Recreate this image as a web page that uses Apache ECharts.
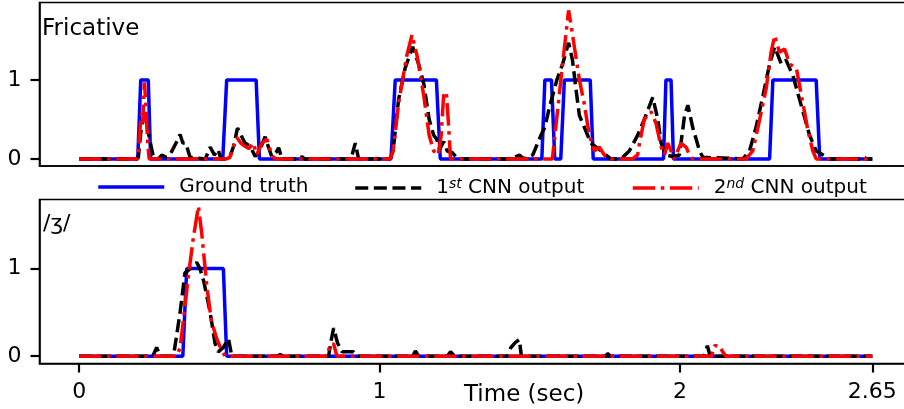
<!DOCTYPE html>
<html><head><meta charset="utf-8">
<script src="https://cdn.jsdelivr.net/npm/echarts@6/dist/echarts.min.js"></script>
<style>html,body{margin:0;padding:0;background:#fff}#c{width:904px;height:409px}</style>
</head><body><div id="c"></div>
<script>
// ---- data (time in seconds, value) ----
const xTickValues = [0, 1, 2, 2.64];
const xTickLabels = ['0', '1', '2', '2.65'];
const yTickValues = [0, 1];
const panelTitles = ['Fricative', '/ʒ/'];
const seriesNames = ['Ground truth', '1st CNN output', '2nd CNN output'];
const xAxisTitle = 'Time (sec)';

const gtFricative = [[0,0],[0.195,0],[0.205,1],[0.230,1],[0.238,0],[0.478,0],[0.491,1],[0.589,1],[0.600,0],[1.038,0],[1.052,1],[1.189,1],[1.202,0],[1.540,0],[1.550,1],[1.572,1],[1.583,0],[1.603,0],[1.615,1],[1.701,1],[1.711,0],[1.945,0],[1.953,1],[1.970,1],[1.978,0],[2.298,0],[2.309,1],[2.453,1],[2.465,0],[2.64,0]];
const cnn1Fricative = [[0,0],[0.19,0],[0.197,0.02],[0.205,0.33],[0.215,0.55],[0.222,0.5],[0.232,0.3],[0.247,0.02],[0.265,0],[0.275,0.05],[0.29,0.02],[0.302,0.05],[0.325,0.22],[0.336,0.31],[0.345,0.2],[0.355,0.2],[0.369,0.02],[0.42,0],[0.436,0.15],[0.45,0.05],[0.462,0.12],[0.472,0],[0.49,0],[0.502,0.03],[0.514,0.16],[0.527,0.39],[0.54,0.29],[0.552,0.2],[0.569,0.16],[0.586,0.03],[0.60,0.1],[0.619,0.28],[0.63,0.15],[0.641,0.03],[0.655,0.08],[0.664,0.14],[0.675,0],[0.735,0],[0.741,0.03],[0.75,0],[0.905,0],[0.919,0.2],[0.93,0],[1.035,0],[1.045,0.1],[1.063,0.75],[1.085,1.15],[1.11,1.42],[1.13,1.2],[1.147,0.95],[1.165,0.5],[1.18,0.3],[1.19,0.25],[1.2,0.12],[1.213,0.22],[1.225,0.1],[1.242,0.08],[1.26,0],[1.44,0],[1.465,0.05],[1.48,0],[1.51,0.05],[1.537,0.3],[1.55,0.4],[1.565,0.65],[1.59,1.0],[1.609,1.2],[1.629,1.47],[1.642,1.25],[1.653,0.9],[1.665,0.55],[1.687,0.35],[1.703,0.2],[1.731,0.12],[1.753,0.05],[1.77,0],[1.80,0],[1.809,0.02],[1.831,0.1],[1.859,0.3],[1.881,0.5],[1.909,0.78],[1.926,0.5],[1.937,0.2],[1.953,0.05],[1.976,0.03],[1.998,0.05],[2.015,0.55],[2.026,0.68],[2.042,0.4],[2.065,0.1],[2.076,0.02],[2.209,0],[2.231,0.1],[2.253,0.4],[2.276,0.8],[2.298,1.2],[2.315,1.42],[2.337,1.2],[2.353,1.25],[2.376,1.05],[2.409,0.6],[2.431,0.3],[2.453,0.1],[2.476,0.05],[2.498,0],[2.60,0],[2.609,0.03],[2.62,0],[2.64,0]];
const cnn2Fricative = [[0,0],[0.195,0],[0.203,0.4],[0.208,0.58],[0.212,0.45],[0.217,0.97],[0.222,0.7],[0.228,0.2],[0.233,0],[0.49,0],[0.502,0.02],[0.514,0.16],[0.525,0.27],[0.538,0.2],[0.552,0.16],[0.565,0.13],[0.58,0.2],[0.591,0.05],[0.608,0.2],[0.625,0.25],[0.641,0.05],[0.652,0],[1.035,0],[1.045,0.1],[1.063,0.7],[1.09,1.3],[1.108,1.57],[1.125,1.3],[1.147,0.8],[1.165,0.3],[1.18,0.1],[1.195,0.05],[1.205,0.3],[1.213,0.8],[1.222,0.85],[1.23,0.4],[1.236,0],[1.575,0],[1.592,0.6],[1.609,1.2],[1.629,1.88],[1.637,1.7],[1.653,1.3],[1.665,1.0],[1.681,0.7],[1.698,0.3],[1.715,0.1],[1.731,0.15],[1.748,0.05],[1.765,0],[1.842,0],[1.859,0.05],[1.865,0.2],[1.881,0.5],[1.903,0.6],[1.920,0.45],[1.937,0.15],[1.948,0.05],[1.959,0.2],[1.970,0.1],[1.981,0],[2.003,0.2],[2.020,0.15],[2.031,0.05],[2.042,0],[2.22,0],[2.242,0.1],[2.265,0.5],[2.287,0.9],[2.303,1.35],[2.315,1.56],[2.331,1.35],[2.348,1.39],[2.365,1.2],[2.387,1.15],[2.409,0.7],[2.426,0.35],[2.442,0.1],[2.453,0],[2.64,0]];

const gtEzh = [[0,0],[0.345,0],[0.358,1],[0.480,1],[0.491,0],[2.64,0]];
const cnn1Ezh = [[0,0],[0.245,0],[0.258,0.1],[0.27,0],[0.314,0],[0.336,0.5],[0.352,0.95],[0.37,1.0],[0.391,1.07],[0.402,1.0],[0.415,0.85],[0.436,0.5],[0.452,0.15],[0.463,0.05],[0.48,0.1],[0.497,0.2],[0.508,0],[0.66,0],[0.669,0.02],[0.68,0],[0.83,0],[0.84,0.2],[0.847,0.32],[0.86,0.15],[0.875,0.05],[0.913,0.05],[0.925,0],[1.11,0],[1.119,0.06],[1.13,0],[1.225,0],[1.236,0.05],[1.25,0],[1.425,0],[1.437,0.1],[1.453,0.16],[1.465,0.19],[1.472,0],[1.752,0],[1.759,0.03],[1.768,0],[2.08,0],[2.091,0.12],[2.10,0],[2.64,0]];
const cnn2Ezh = [[0,0],[0.325,0],[0.336,0.1],[0.347,0.41],[0.363,0.9],[0.38,1.35],[0.397,1.71],[0.408,1.4],[0.425,0.8],[0.44,0.4],[0.458,0.2],[0.47,0.1],[0.486,0],[0.825,0],[0.836,0.14],[0.847,0.14],[0.858,0],[2.105,0],[2.115,0.12],[2.131,0.12],[2.142,0.05],[2.153,0],[2.64,0]];

// ---- chart ----
const FONT = 'DejaVu Sans';
const X_MIN = -0.132, X_MAX = 2.772;
const Y_RANGES = [[-0.09, 1.98], [-0.083, 1.787]];
const chart = echarts.init(document.getElementById('c'), null, {renderer: 'canvas'});
const styles = [
  {color: '#0000ff', type: 'solid'},
  {color: '#000000', type: [13, 5.6]},
  {color: '#ff0000', type: [22.4, 5.6, 3.5, 5.6]}
];
const panels = [[gtFricative, cnn1Fricative, cnn2Fricative], [gtEzh, cnn1Ezh, cnn2Ezh]];
const series = [];
panels.forEach((p, gi) => {
  p.forEach((d, si) => {
    series.push({
      type: 'line', name: seriesNames[si], xAxisIndex: gi, yAxisIndex: gi,
      data: d, symbol: 'none', showSymbol: false, smooth: false,
      lineStyle: {color: styles[si].color, width: 3.5, type: styles[si].type, cap: 'butt'},
      itemStyle: {color: styles[si].color},
      z: 2 + si
    });
  });
});
const legendLeft = [91.5, 348.5, 626];
const legends = seriesNames.map((n, i) => ({
  data: [n], left: legendLeft[i], top: 172, itemWidth: 66, itemHeight: 22,
  lineStyle: {width: 3.5}, itemStyle: {opacity: 0},
  selectedMode: false,
  formatter: name => {
    if (name.indexOf('1st') === 0) return '{n|1}{s|st}{n| CNN output}';
    if (name.indexOf('2nd') === 0) return '{n|2}{s|nd}{n| CNN output}';
    return '{n|' + name + '}';
  },
  textStyle: {
    padding: [0, 0, 0, 10],
    rich: {
      n: {fontFamily: FONT, fontSize: 20, color: '#000', lineHeight: 22},
      s: {fontFamily: FONT, fontSize: 14, fontStyle: 'italic', color: '#000', verticalAlign: 'top', lineHeight: 14}
    }
  }
}));
const TICK = 9;
const tickStyle = {color: '#000', width: 2.2};
const axisBase = (gi) => ({
  type: 'value', gridIndex: gi, min: X_MIN, max: X_MAX,
  splitLine: {show: false}, axisLine: {show: true, onZero: false, lineStyle: {color: '#000', width: 1.6}},
  axisTick: {show: gi === 1, inside: false, customValues: xTickValues, length: TICK, lineStyle: tickStyle},
  axisLabel: {show: gi === 1, customValues: xTickValues, margin: 18, fontFamily: FONT, fontSize: 22, color: '#000',
    formatter: v => { const k = xTickValues.findIndex(t => Math.abs(t - v) < 1e-6); return k >= 0 ? xTickLabels[k] : ''; }}
});
const yBase = (gi) => ({
  type: 'value', gridIndex: gi, min: Y_RANGES[gi][0], max: Y_RANGES[gi][1],
  splitLine: {show: false}, axisLine: {show: true, onZero: false, lineStyle: {color: '#000', width: 1.6}},
  axisTick: {show: true, inside: false, customValues: yTickValues, length: TICK, lineStyle: tickStyle},
  axisLabel: {customValues: yTickValues, margin: 18, fontFamily: FONT, fontSize: 22, color: '#000'}
});
chart.setOption({
  animation: false,
  backgroundColor: '#fff',
  grid: [
    {left: 39.5, right: -8, top: 2.5, height: 163.5, show: true, borderColor: '#000', borderWidth: 1.6, outerBoundsMode: 'none'},
    {left: 39.5, right: -8, top: 199.5, height: 164, show: true, borderColor: '#000', borderWidth: 1.6, outerBoundsMode: 'none'}
  ],
  xAxis: [axisBase(0), axisBase(1)],
  yAxis: [yBase(0), yBase(1)],
  legend: legends,
  series: series,
  graphic: [
    {type: 'text', left: 42, top: 18, style: {text: panelTitles[0], font: '23px "DejaVu Sans"', fill: '#000'}},
    {type: 'text', left: 43, top: 213, style: {text: panelTitles[1], font: '22px "DejaVu Sans"', fill: '#000'}},
    {type: 'text', left: 464, top: 384, style: {text: xAxisTitle, font: '23px "DejaVu Sans"', fill: '#000'}}
  ]
});
</script></body></html>
